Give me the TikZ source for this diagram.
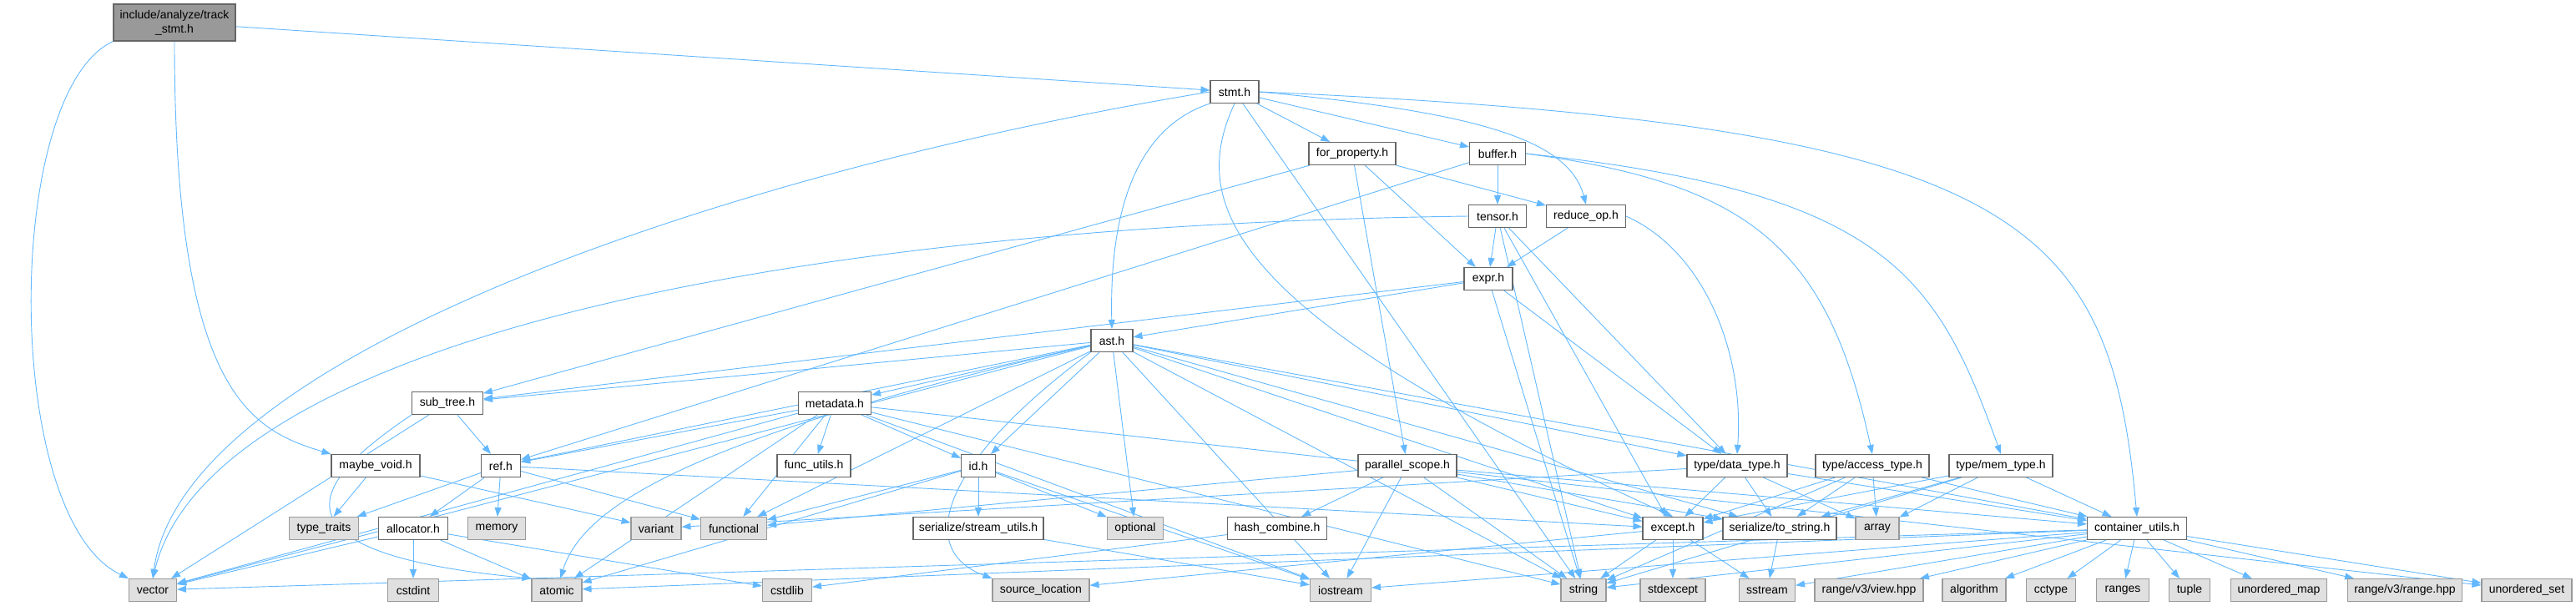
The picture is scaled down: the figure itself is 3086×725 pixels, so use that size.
\documentclass[tikz,border=0pt]{standalone}
\usepackage{fontspec}
\setmainfont{Liberation Sans}
\usetikzlibrary{arrows.meta, backgrounds}
\definecolor{inclblue}{HTML}{63B8FF}
\definecolor{boxline}{HTML}{666666}
\definecolor{sysline}{HTML}{999999}
\definecolor{sysfill}{HTML}{E0E0E0}
\definecolor{rootfill}{HTML}{999999}

\begin{document}
\begin{tikzpicture}[x=0.5pt, y=-0.5pt, >={Triangle[length=5.5pt, width=4pt]},
  every node/.style={font=\fontsize{7pt}{8.5pt}\selectfont, inner sep=0pt, minimum height=13.5pt},
  hdr/.style={draw=boxline, line width=0.55pt, fill=white},
  sys/.style={draw=sysline, line width=0.55pt, fill=sysfill},
  incl/.style={->, draw=inclblue, line width=0.45pt}]
  \useasboundingbox (0,0) rectangle (3086,725);

  % top of the graph
  \node[hdr, fill=rootfill, minimum width=73pt, minimum height=22pt, align=center] (root) at (209,27) {include/analyze/track\\\_stmt.h};
  \node[hdr, minimum width=29pt] (stmt) at (1479,110) {stmt.h};
  \node[hdr, minimum width=52pt] (forprop) at (1620,184) {for\_property.h};
  \node[hdr, minimum width=33.5pt] (buffer) at (1794,184) {buffer.h};
  \node[hdr, minimum width=34.5pt] (tensor) at (1794,259) {tensor.h};
  \node[hdr, minimum width=47.5pt] (reduceop) at (1900,259) {reduce\_op.h};
  \node[hdr, minimum width=29pt] (expr) at (1783,334) {expr.h};
  \node[hdr, minimum width=25pt] (ast) at (1332,408) {ast.h};
  \node[hdr, minimum width=43.5pt] (metadata) at (1000,483) {metadata.h};
  \node[hdr, minimum width=42.5pt] (subtree) at (536,483) {sub\_tree.h};

  % middle row
  \node[hdr, minimum width=53pt] (maybevoid) at (450,558) {maybe\_void.h};
  \node[hdr, minimum width=23.5pt] (ref) at (600,558) {ref.h};
  \node[hdr, minimum width=44pt] (funcutils) at (975,558) {func\_utils.h};
  \node[hdr, minimum width=20.5pt] (id) at (1172,558) {id.h};
  \node[hdr, minimum width=59pt] (parscope) at (1686,558) {parallel\_scope.h};
  \node[hdr, minimum width=60pt] (datatype) at (2081,558) {type/data\_type.h};
  \node[hdr, minimum width=68pt] (accesstype) at (2243,558) {type/access\_type.h};
  \node[hdr, minimum width=62pt] (memtype) at (2397,558) {type/mem\_type.h};

  \node[sys, minimum width=41.5pt] (typetraits) at (388,633) {type\_traits};
  \node[hdr, minimum width=41.5pt] (allocator) at (495,633) {allocator.h};
  \node[sys, minimum width=34.5pt] (memory) at (595,633) {memory};
  \node[sys, minimum width=30pt] (variant) at (786,633) {variant};
  \node[sys, minimum width=39.5pt] (functional) at (879,633) {functional};
  \node[hdr, minimum width=78pt] (streamutils) at (1172,633) {serialize/stream\_utils.h};
  \node[sys, minimum width=33.5pt] (optional) at (1360,633) {optional};
  \node[hdr, minimum width=59.5pt] (hashcombine) at (1530,633) {hash\_combine.h};
  \node[hdr, minimum width=36pt] (except) at (2004,633) {except.h};
  \node[hdr, minimum width=68pt] (tostring) at (2132,633) {serialize/to\_string.h};
  \node[sys, minimum width=26pt] (array) at (2249,633) {array};
  \node[hdr, minimum width=59.5pt] (contutils) at (2560,633) {container\_utils.h};

  % bottom row, system headers
  \node[sys, minimum width=28.5pt] (vector) at (183,707) {vector};
  \node[sys, minimum width=30.5pt] (cstdint) at (495,707) {cstdint};
  \node[sys, minimum width=30pt] (atomic) at (667,707) {atomic};
  \node[sys, minimum width=29.5pt] (cstdlib) at (943,707) {cstdlib};
  \node[sys, minimum width=58pt] (srcloc) at (1247,707) {source\_location};
  \node[sys, minimum width=36.5pt] (iostream) at (1606,707) {iostream};
  \node[sys, minimum width=27pt] (string) at (1897,707) {string};
  \node[sys, minimum width=39pt] (stdexcept) at (2004,707) {stdexcept};
  \node[sys, minimum width=33.5pt] (sstream) at (2117,707) {sstream};
  \node[sys, minimum width=65pt] (rangeview) at (2239,707) {range/v3/view.hpp};
  \node[sys, minimum width=38pt] (algorithm) at (2365,707) {algorithm};
  \node[sys, minimum width=29.5pt] (cctype) at (2457,707) {cctype};
  \node[sys, minimum width=31.5pt] (ranges) at (2543,707) {ranges};
  \node[sys, minimum width=24.5pt] (tuple) at (2623,707) {tuple};
  \node[sys, minimum width=57.5pt] (umap) at (2730,707) {unordered\_map};
  \node[sys, minimum width=68.5pt] (rangerange) at (2881,707) {range/v3/range.hpp};
  \node[sys, minimum width=54pt] (uset) at (3027,707) {unordered\_set};

  \begin{scope}[on background layer]
  % include/analyze/track_stmt.h
  \draw[incl] (root) -- (stmt);
  \draw[incl] (root.south west) .. controls (4,110) and (2,620) .. (vector.north west);
  \draw[incl] (root.south) .. controls (209,470) and (300,515) .. (maybevoid.north west);
  % stmt.h
  \draw[incl] (stmt) -- (forprop);
  \draw[incl] (stmt) -- (buffer);
  \draw[incl] (stmt.east) .. controls (1780,135) and (1880,170) .. (reduceop.north);
  \draw[incl] (stmt.east) .. controls (2420,150) and (2528,260) .. (contutils.north);
  \draw[incl] (stmt.south west) .. controls (1340,160) and (1330,300) .. (ast.north);
  \draw[incl] (stmt.south) .. controls (1420,250) and (1480,380) .. (except.north);
  \draw[incl] (stmt) -- (string);
  \draw[incl] (stmt.west) .. controls (900,200) and (220,420) .. (vector.north);
  % for_property.h
  \draw[incl] (forprop) -- (parscope);
  \draw[incl] (forprop) -- (expr);
  \draw[incl] (forprop) -- (reduceop);
  \draw[incl] (forprop) -- (subtree);
  % buffer.h
  \draw[incl] (buffer) -- (tensor);
  \draw[incl] (buffer.east) .. controls (2100,220) and (2190,300) .. (accesstype.north);
  \draw[incl] (buffer.east) .. controls (2260,230) and (2320,330) .. (memtype.north);
  \draw[incl] (buffer) -- (ref);
  % tensor.h
  \draw[incl] (tensor) -- (expr);
  \draw[incl] (tensor) -- (datatype);
  \draw[incl] (tensor) -- (string);
  \draw[incl] (tensor) -- (except);
  \draw[incl] (tensor.west) .. controls (900,270) and (250,420) .. (vector.north);
  % reduce_op.h
  \draw[incl] (reduceop) -- (expr);
  \draw[incl] (reduceop.east) .. controls (2040,300) and (2090,420) .. (datatype.north);
  % expr.h
  \draw[incl] (expr) -- (ast);
  \draw[incl] (expr) -- (subtree);
  \draw[incl] (expr) -- (string);
  \draw[incl] (expr) -- (datatype);
  % ast.h
  \draw[incl] (ast) -- (metadata);
  \draw[incl] (ast) -- (id);
  \draw[incl] (ast) -- (datatype);
  \draw[incl] (ast) -- (subtree);
  \draw[incl] (ast) -- (ref);
  \draw[incl] (ast) -- (functional);
  \draw[incl] (ast) .. controls (850,520) and (700,600) .. (atomic);
  \draw[incl] (ast) -- (iostream);
  \draw[incl] (ast) -- (string);
  \draw[incl] (ast) -- (optional);
  \draw[incl] (ast) -- (vector);
  \draw[incl] (ast.south west) .. controls (1120,560) and (1100,660) .. (srcloc.north west);
  \draw[incl] (ast) -- (tostring);
  \draw[incl] (ast) -- (except);
  \draw[incl] (ast) -- (contutils);
  % metadata.h
  \draw[incl] (metadata) -- (ref);
  \draw[incl] (metadata) -- (id);
  \draw[incl] (metadata) -- (funcutils);
  \draw[incl] (metadata) -- (functional);
  \draw[incl] (metadata) -- (atomic);
  \draw[incl] (metadata) -- (vector);
  \draw[incl] (metadata) -- (iostream);
  \draw[incl] (metadata) -- (string);
  \draw[incl] (metadata) -- (uset);
  % sub_tree.h
  \draw[incl] (subtree) -- (ref);
  \draw[incl] (subtree) -- (vector);
  \draw[incl] (subtree.south west) .. controls (400,560) and (280,660) .. (atomic.north west);
  % maybe_void.h, ref.h, allocator.h
  \draw[incl] (maybevoid) -- (typetraits);
  \draw[incl] (maybevoid) -- (variant);
  \draw[incl] (ref) -- (typetraits);
  \draw[incl] (ref) -- (memory);
  \draw[incl] (ref) -- (allocator);
  \draw[incl] (ref) -- (functional);
  \draw[incl] (ref) -- (except);
  \draw[incl] (allocator) -- (vector);
  \draw[incl] (allocator) -- (cstdint);
  \draw[incl] (allocator) -- (atomic);
  \draw[incl] (allocator) -- (cstdlib);
  % id.h
  \draw[incl] (id) -- (streamutils);
  \draw[incl] (id) -- (optional);
  \draw[incl] (id) -- (functional);
  \draw[incl] (id) -- (iostream);
  \draw[incl] (id) -- (atomic);
  \draw[incl] (streamutils) -- (iostream);
  % parallel_scope.h
  \draw[incl] (parscope) -- (hashcombine);
  \draw[incl] (parscope) -- (iostream);
  \draw[incl] (parscope) -- (string);
  \draw[incl] (parscope) -- (except);
  \draw[incl] (parscope) -- (tostring);
  \draw[incl] (parscope) -- (contutils);
  \draw[incl] (parscope) -- (functional);
  \draw[incl] (hashcombine) -- (cstdlib);
  % type/*.h
  \draw[incl] (datatype) -- (except);
  \draw[incl] (datatype) -- (tostring);
  \draw[incl] (datatype) -- (array);
  \draw[incl] (datatype) -- (contutils);
  \draw[incl] (datatype) -- (variant);
  \draw[incl] (accesstype) -- (except);
  \draw[incl] (accesstype) -- (tostring);
  \draw[incl] (accesstype) -- (array);
  \draw[incl] (accesstype) -- (contutils);
  \draw[incl] (accesstype) -- (string);
  \draw[incl] (memtype) -- (except);
  \draw[incl] (memtype) -- (tostring);
  \draw[incl] (memtype) -- (array);
  \draw[incl] (memtype) -- (contutils);
  \draw[incl] (memtype) -- (string);
  % except.h, serialize/to_string.h
  \draw[incl] (except) -- (string);
  \draw[incl] (except) -- (stdexcept);
  \draw[incl] (except) -- (sstream);
  \draw[incl] (except) -- (srcloc);
  \draw[incl] (tostring) -- (sstream);
  % container_utils.h
  \draw[incl] (contutils) -- (algorithm);
  \draw[incl] (contutils) -- (cctype);
  \draw[incl] (contutils) -- (ranges);
  \draw[incl] (contutils) -- (tuple);
  \draw[incl] (contutils) -- (umap);
  \draw[incl] (contutils) -- (rangerange);
  \draw[incl] (contutils) -- (uset);
  \draw[incl] (contutils) -- (rangeview);
  \draw[incl] (contutils) -- (string);
  \draw[incl] (contutils) -- (sstream);
  \draw[incl] (contutils) -- (iostream);
  \draw[incl] (contutils) -- (vector);
  \draw[incl] (contutils) -- (atomic);
  \end{scope}
\end{tikzpicture}
\end{document}
